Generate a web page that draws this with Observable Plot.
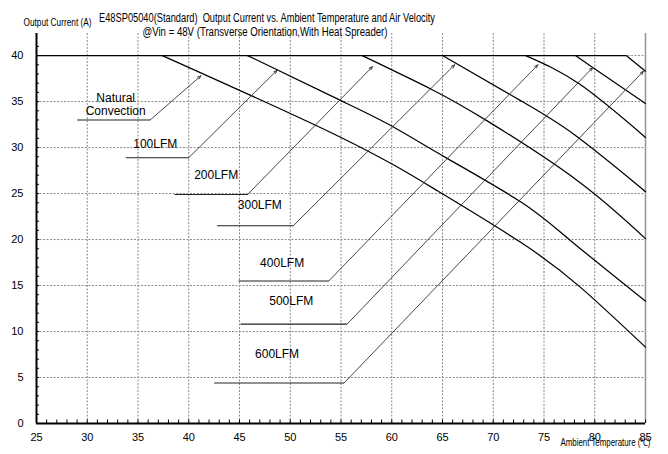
<!DOCTYPE html>
<html><head><meta charset="utf-8">
<script src="https://cdn.jsdelivr.net/npm/d3@7"></script>
<script src="https://cdn.jsdelivr.net/npm/@observablehq/plot@0.6"></script>
<style>body{margin:0;background:#fff;}</style>
</head><body><div id="chart"></div><script>
// ---- texts ----
const title = "E48SP05040(Standard)  Output Current vs. Ambient Temperature and Air Velocity";
const subtitle = "@Vin = 48V (Transverse Orientation,With Heat Spreader)";
const yLabel = "Output Current (A)";
const xLabel = "Ambient Temperature (\u2103)";

// ---- ticks ----
const xTicks = [25, 30, 35, 40, 45, 50, 55, 60, 65, 70, 75, 80, 85];
const yTicks = [0, 5, 10, 15, 20, 25, 30, 35, 40];

// ---- derating curves: [ambient temperature °C, output current A] ----
const seriesNames = ["Natural Convection", "100LFM", "200LFM", "300LFM", "400LFM", "500LFM", "600LFM"];
const naturalConvection = [[37.4, 40], [55.0, 31.1], [64.5, 25.3], [72.7, 19.7], [78.6, 14.8], [85, 8.3]];
const lfm100 = [[45.8, 40], [55.0, 35.1], [59.9, 32.4], [65.5, 28.8], [72.7, 24.1], [77.6, 19.9], [85, 13.3]];
const lfm200 = [[57.1, 40], [63.8, 36.4], [69.4, 32.9], [78.3, 26.4], [85, 20.1]];
const lfm300 = [[65.0, 40], [72.7, 35.1], [78.0, 31.4], [83.7, 26.4], [85, 25.2]];
const lfm400 = [[73.2, 40], [78.5, 36.9], [85, 31.1]];
const lfm500 = [[78.1, 40], [79.8, 38.7], [85, 34.8]];
const lfm600 = [[83.1, 40], [85, 38.3]];
const plateauCurrent = 40;

// ---- annotations (data coordinates) ----
const labelText = ["Natural\nConvection", "100LFM", "200LFM", "300LFM", "400LFM", "500LFM", "600LFM"];
const labelTemp = [32.8, 36.7, 42.7, 47.0, 49.2, 50.1, 48.7];
const labelCurrent = [34.7, 30.4, 27.0, 23.8, 17.4, 13.3, 7.6];
const leaderStartTemp = [29.0, 33.8, 38.6, 42.8, 44.9, 45.1, 42.5];
const leaderElbowTemp = [36.2, 40.0, 45.8, 50.3, 53.8, 55.6, 55.3];
const leaderCurrent = [33.0, 28.9, 24.9, 21.5, 15.5, 10.8, 4.4];
const arrowTipTemp = [41.2, 48.7, 58.1, 66.2, 74.4, 79.8, 84.8];
const arrowTipCurrent = [37.8, 38.4, 38.8, 39.0, 39.0, 38.7, 38.3];

const curveSets = [naturalConvection, lfm100, lfm200, lfm300, lfm400, lfm500, lfm600];
const curves = curveSets.flatMap((pts, k) => pts.map(([t, i]) => ({series: seriesNames[k], t, i})));
const plateauEnd = d3.max(curveSets, pts => pts[0][0]);
const leaders = labelText.map((label, k) => ({
  label, lt: labelTemp[k], li: labelCurrent[k],
  st: leaderStartTemp[k], et: leaderElbowTemp[k], yi: leaderCurrent[k],
  tt: arrowTipTemp[k], ti: arrowTipCurrent[k]
}));

const xMin = xTicks[0], xMax = xTicks[xTicks.length - 1];
const yTop = 42.4;

const chart = Plot.plot({
  width: 668, height: 454,
  marginLeft: 36, marginRight: 23, marginTop: 33, marginBottom: 31,
  x: {domain: [xMin, xMax]},
  y: {domain: [0, yTop]},
  style: {fontFamily: "'Liberation Sans', Arial, sans-serif", fontSize: "11px", background: "white", color: "black"},
  marks: [
    // grid
    Plot.ruleX(xTicks.filter(t => t > xMin && t < xMax), {x: d => d, stroke: "#8a8a8a", strokeDasharray: "2,1.5", strokeWidth: 1}),
    Plot.ruleY(yTicks.filter(v => v > 0), {y: d => d, stroke: "#8a8a8a", strokeDasharray: "2,1.5", strokeWidth: 1}),
    Plot.ruleX([xMax], {stroke: "#999", strokeWidth: 1.6}),
    // minor ticks
    Plot.ruleX(d3.range(xMin + 1, xMax + 1, 1), {x: d => d, y1: 0, y2: 0.38, stroke: "black", strokeWidth: 1}),
    Plot.ruleY(d3.range(1, 42, 1), {y: d => d, x1: xMin, x2: xMin + 0.3, stroke: "black", strokeWidth: 1}),
    // axes lines
    Plot.ruleY([0], {stroke: "black", strokeWidth: 2}),
    Plot.ruleX([xMin], {stroke: "black", strokeWidth: 2}),
    Plot.axisX(xTicks, {tickSize: 0, tickPadding: 10, label: null, fontSize: 11}),
    Plot.axisY(yTicks, {tickSize: 0, tickPadding: 13, label: null, fontSize: 11}),
    // plateau + curves
    Plot.ruleY([plateauCurrent], {x1: xMin, x2: plateauEnd, stroke: "black", strokeWidth: 1.3}),
    Plot.line(curves, {x: "t", y: "i", z: "series", curve: "natural", stroke: "black", strokeWidth: 1.25}),
    // leaders
    Plot.link(leaders, {x1: "st", x2: "et", y1: "yi", y2: "yi", stroke: "#222", strokeWidth: 1.1}),
    Plot.arrow(leaders, {x1: "et", y1: "yi", x2: "tt", y2: "ti", stroke: "#333", strokeWidth: 0.9, headLength: 6, headAngle: 40}),
    Plot.text(leaders, {x: "lt", y: "li", text: "label", fontSize: 12, lineHeight: 1.05, fill: "black"}),
    // titles
    Plot.text([title], {frameAnchor: "top", dx: -74, dy: -20, fontSize: 12, fill: "black"}),
    Plot.text([subtitle], {frameAnchor: "top", dx: -76, dy: -6, fontSize: 12, fill: "black"}),
    Plot.text([yLabel], {frameAnchor: "top-left", dx: 21, dy: -15, fontSize: 10, fill: "black", textAnchor: "middle"}),
    Plot.text([xLabel], {frameAnchor: "bottom-right", dx: -40, dy: 22, fontSize: 10.5, fill: "black", textAnchor: "middle"})
  ]
});

const fits = new Map([[title, 336], [subtitle, 245], [yLabel, 68], [xLabel, 90]]);
d3.select(chart).selectAll("text").each(function() {
  const w = fits.get(this.textContent);
  if (w) { this.setAttribute("textLength", w); this.setAttribute("lengthAdjust", "spacingAndGlyphs"); }
});
document.getElementById("chart").appendChild(chart);
</script></body></html>
